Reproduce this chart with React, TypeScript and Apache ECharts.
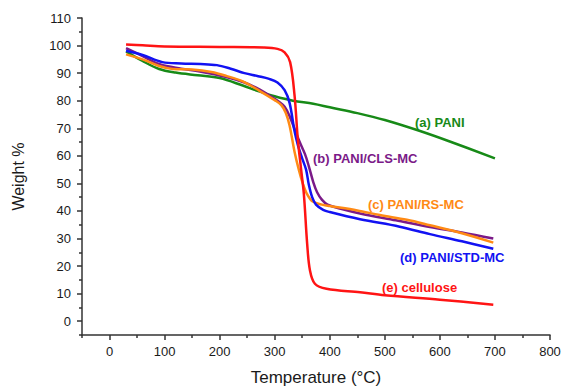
import React, { useEffect, useRef } from 'react';
import * as echarts from 'echarts';

const FONT = '"Liberation Sans", Arial, Helvetica, sans-serif';

// Tick values
const xMajorTicks = [0, 100, 200, 300, 400, 500, 600, 700, 800];
const xMinorTicks = [-50, 50, 150, 250, 350, 450, 550, 650, 750];
const yMajorTicks = [0, 10, 20, 30, 40, 50, 60, 70, 80, 90, 100, 110];
const yMinorTicks = [-5, 5, 15, 25, 35, 45, 55, 65, 75, 85, 95, 105];

// Series names
const seriesNames = ['(a) PANI', '(b) PANI/CLS-MC', '(c) PANI/RS-MC', '(d) PANI/STD-MC', '(e) cellulose'];

// [temperature °C, weight %]
const pani: [number, number][] = [
  [30, 97.9], [60, 94.4], [90, 91.5], [120, 90.2], [160, 89.2], [200, 88.2], [242, 85.5],
  [270, 83.5], [300, 81.6], [333, 80.0], [370, 78.9], [400, 77.6], [450, 75.5], [500, 73.0],
  [564, 69.0], [618, 65.2], [700, 59.1],
];

const paniCls: [number, number][] = [
  [30, 99.1], [60, 96.2], [91, 93.2], [130, 91.6], [164, 90.6], [212, 88.6], [245, 86.6],
  [273, 84.0], [291, 81.8], [309, 79.4], [318, 77.8], [327, 74.4], [336, 69.8], [345, 65.2],
  [355, 60.6], [362, 56.2], [370, 50.5], [377, 46.8], [386, 44.0], [396, 42.3], [420, 40.8],
  [455, 39.1], [520, 36.6], [582, 34.2], [640, 32.2], [697, 30.0],
];

const paniRs: [number, number][] = [
  [30, 96.8], [60, 95.0], [90, 92.6], [115, 91.5], [150, 91.3], [185, 90.4], [212, 89.0],
  [242, 87.0], [273, 83.5], [300, 80.2], [312, 78.4], [320, 75.6], [327, 71.0], [336, 61.5],
  [344, 54.8], [351, 50.0], [358, 46.4], [369, 43.4], [388, 42.2], [400, 41.8], [450, 40.2],
  [491, 38.5], [540, 36.8], [582, 34.8], [640, 31.9], [697, 28.5],
];

const paniStd: [number, number][] = [
  [30, 98.1], [60, 96.6], [96, 94.0], [130, 93.5], [165, 93.3], [195, 92.9], [220, 91.6],
  [245, 90.0], [270, 88.9], [290, 87.9], [305, 86.6], [318, 83.8], [327, 79.2], [336, 69.0],
  [342, 64.0], [350, 59.0], [357, 55.0], [362, 49.5], [368, 45.0], [375, 42.3], [388, 40.4],
  [400, 39.6], [455, 37.0], [527, 34.3], [582, 31.6], [640, 29.0], [697, 26.3],
];

const cellulose: [number, number][] = [
  [30, 100.4], [60, 100.1], [100, 99.7], [200, 99.5], [280, 99.3], [305, 98.8], [318, 97.5],
  [328, 94.0], [336, 82.0], [342, 66.0], [348, 55.0], [353, 46.0], [359, 28.0], [364, 18.5],
  [373, 13.6], [394, 11.8], [455, 10.5], [500, 9.4], [600, 7.8], [697, 6.0],
];

const colors = ['#178a17', '#7b1a88', '#ff8a14', '#1212f2', '#ff1414'];

export default function App() {
  const ref = useRef<HTMLDivElement>(null);

  useEffect(() => {
    if (!ref.current) return;
    const chart = echarts.init(ref.current, null, { renderer: 'svg' });
    const lineStyle = { color: '#333333', width: 1.5 };
    const labelStyle = { color: '#1a1a1a', fontSize: 13, fontFamily: FONT };

    const datasets = [pani, paniCls, paniRs, paniStd, cellulose];
    const drawOrder = [0, 2, 3, 1, 4];

    const series = drawOrder.map((i) => ({
      name: seriesNames[i],
      type: 'line',
      data: datasets[i],
      xAxisIndex: 0,
      yAxisIndex: 0,
      showSymbol: false,
      symbol: 'none',
      smooth: 0.35,
      lineStyle: { color: colors[i], width: 2.5 },
      itemStyle: { color: colors[i] },
      z: 2 + i,
    }));

    const labelPos: [number, number][] = [
      [415, 122],
      [313, 158],
      [368, 204],
      [400, 257],
      [382, 287],
    ];

    const graphic = seriesNames.map((t, i) => ({
      type: 'text',
      x: labelPos[i][0],
      y: labelPos[i][1],
      z: 100,
      style: {
        text: t,
        fill: colors[i],
        fontSize: 13,
        fontWeight: 'bold',
        fontFamily: FONT,
        verticalAlign: 'middle',
        align: 'left',
      },
    }));

    chart.setOption({
      animation: false,
      backgroundColor: '#ffffff',
      grid: { left: 82, right: 12, top: 18, bottom: 53, outerBoundsMode: 'none', containLabel: false },
      xAxis: [
        {
          type: 'value',
          min: -50,
          max: 800,
          position: 'bottom',
          name: 'Temperature (°C)',
          nameLocation: 'middle',
          nameGap: 34,
          nameTextStyle: { color: '#1a1a1a', fontSize: 17, fontFamily: FONT },
          axisLine: { show: true, onZero: false, lineStyle },
          axisTick: { show: true, length: 5, inside: false, lineStyle, customValues: xMajorTicks },
          axisLabel: { ...labelStyle, margin: 10, customValues: xMajorTicks },
          splitLine: { show: false },
        },
        {
          type: 'value',
          min: -50,
          max: 800,
          position: 'bottom',
          axisLine: { show: false, onZero: false },
          axisTick: { show: true, length: 3, inside: false, lineStyle, customValues: xMinorTicks },
          axisLabel: { show: false },
          splitLine: { show: false },
        },
      ],
      yAxis: [
        {
          type: 'value',
          min: -5,
          max: 110,
          position: 'left',
          name: 'Weight %',
          nameLocation: 'middle',
          nameRotate: 90,
          nameGap: 56,
          nameTextStyle: { color: '#1a1a1a', fontSize: 16, fontFamily: FONT },
          axisLine: { show: true, onZero: false, lineStyle },
          axisTick: { show: true, length: 5, inside: false, lineStyle, customValues: yMajorTicks },
          axisLabel: { ...labelStyle, margin: 11, customValues: yMajorTicks },
          splitLine: { show: false },
        },
        {
          type: 'value',
          min: -5,
          max: 110,
          position: 'left',
          axisLine: { show: false, onZero: false },
          axisTick: { show: true, length: 3, inside: false, lineStyle, customValues: yMinorTicks },
          axisLabel: { show: false },
          splitLine: { show: false },
        },
      ],
      series,
      graphic,
    });

    return () => chart.dispose();
  }, []);

  return (
    <div
      ref={ref}
      style={{ position: 'fixed', left: 0, top: 0, width: 562, height: 388, background: '#ffffff' }}
    />
  );
}
